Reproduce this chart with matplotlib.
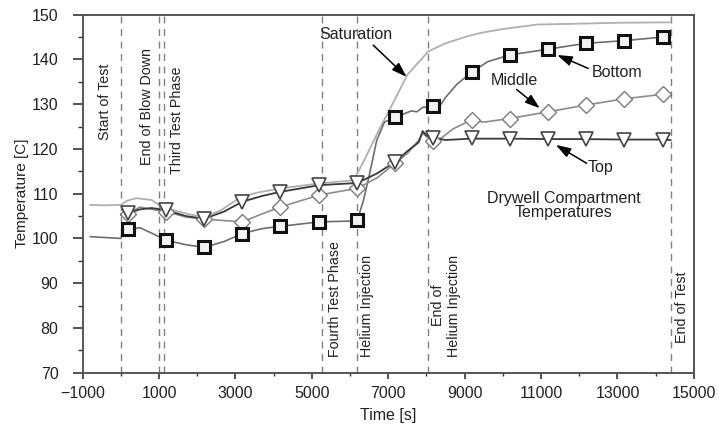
"""
Drywell compartment temperatures during the helium injection test.
"""

import matplotlib
matplotlib.use("Agg")
import matplotlib.pyplot as plt
from matplotlib.ticker import MultipleLocator

plt.rcParams["font.family"] = ["Liberation Sans", "DejaVu Sans"]

# saturation temperature trace
sat_t = [-800, -400, 0, 150, 400, 800, 1100, 1500, 1900, 2200, 2600, 3150, 3600, 4200,
         5200, 6100, 6400, 6800, 7200, 7500, 8050, 8500, 9000, 9400, 10000, 10900,
         12000, 13000, 14390]
sat_T = [107.5, 107.4, 107.5, 108.4, 109.0, 108.6, 107.0, 106.0, 105.2, 104.9, 106.2,
         109.3, 110.3, 111.2, 112.3, 113.0, 118.0, 125.0, 131.5, 136.6, 141.8, 143.6,
         145.0, 145.9, 146.8, 147.8, 148.0, 148.2, 148.3]

# bottom thermocouple trace
bot_t = [-800, -400, 0, 60, 180, 500, 800, 1190, 1700, 2180, 2700, 3180, 3700, 4170,
         5190, 6100, 6190, 6350, 6500, 6700, 6900, 7180, 7400, 7600, 7750, 7900, 8180,
         8300, 8500, 8800, 9180, 9600, 10180, 11180, 12170, 13170, 14180, 14390]
bot_T = [100.4, 100.2, 100.0, 101.8, 102.0, 102.4, 101.2, 99.6, 98.6, 98.0, 99.3, 101.1,
         102.2, 102.7, 103.7, 103.9, 104.1, 108.5, 114.0, 122.0, 126.0, 127.1, 127.8,
         128.5, 128.3, 129.3, 129.5, 129.0, 131.5, 134.5, 137.1, 139.5, 141.0, 142.3,
         143.6, 144.2, 145.0, 145.1]

# middle thermocouple trace
mid_t = [0, 180, 500, 800, 1190, 1700, 2180, 2700, 3180, 3700, 4170, 5190, 6190, 6700,
         7180, 7500, 7800, 7900, 8000, 8180, 8400, 8700, 9180, 9500, 10180, 11180, 12170,
         13170, 14180, 14390]
mid_T = [105.5, 105.6, 107.0, 106.5, 106.0, 104.8, 104.3, 104.0, 103.7, 105.5, 107.0,
         109.7, 111.2, 113.5, 116.8, 119.0, 122.0, 123.5, 122.8, 121.8, 122.5, 124.5,
         126.5, 126.0, 126.8, 128.3, 129.8, 131.2, 132.2, 132.4]

# top thermocouple trace
top_t = [0, 180, 500, 800, 1190, 1700, 2180, 2700, 3180, 3700, 4170, 5190, 6190, 6700,
         7180, 7500, 7800, 7900, 8000, 8180, 8500, 9180, 10180, 11180, 12170, 13170,
         14180, 14390]
top_T = [105.3, 105.6, 106.5, 106.8, 106.3, 105.0, 104.4, 106.0, 108.2, 109.5, 110.4,
         111.9, 112.4, 114.5, 117.1, 119.5, 121.5, 124.0, 123.0, 122.5, 122.0, 122.3,
         122.3, 122.2, 122.2, 122.1, 122.1, 122.0]

# marker sampling times and values
mark_t = [180, 1190, 2180, 3180, 4170, 5190, 6190, 7180, 8180, 9180, 10180, 11180,
          12170, 13170, 14180]
bot_mark = [102.0, 99.6, 98.0, 101.1, 102.7, 103.7, 104.1, 127.1, 129.5, 137.1, 141.0,
            142.3, 143.6, 144.2, 145.0]
mid_mark = [105.4, 106.0, 104.3, 103.7, 107.0, 109.7, 111.2, 116.8, 121.8, 126.5, 126.8,
            128.3, 129.8, 131.2, 132.2]
top_mark = [105.6, 106.3, 104.4, 108.2, 110.4, 111.9, 112.4, 117.1, 122.5, 122.4, 122.3,
            122.2, 122.2, 122.1, 122.1]

# test events: (time, label, label x, label y, vertical alignment)
events = [
    (0, "Start of Test", -416, 139, "top"),
    (1000, "End of Blow Down", 675, 142.5, "top"),
    (1130, "Third Test Phase", 1460, 138.5, "top"),
    (5270, "Fourth Test Phase", 5604, 73.6, "bottom"),
    (6170, "Helium Injection", 6449, 73.6, "bottom"),
    (8050, "End of\nHelium Injection", 8509, 73.6, "bottom"),
    (14390, "End of Test", 14678, 76.7, "bottom"),
]

fig = plt.figure(figsize=(7.19, 4.30), dpi=100)
ax = fig.add_axes([0.115, 0.1333, 0.850, 0.8325])

for t_ev, label, lx, ly, va in events:
    ax.axvline(t_ev, color="#808080", linestyle=(0, (5, 4)), linewidth=1.0, zorder=1)
    ax.text(lx, ly, label, rotation=90, ha="center", va=va, fontsize=10.3,
            color="#222222", multialignment="center")

ax.plot(sat_t, sat_T, color="#b0b0b0", linewidth=1.3, zorder=2)
ax.plot(bot_t, bot_T, color="#6e6e6e", linewidth=1.2, zorder=3)
ax.plot(mid_t, mid_T, color="#8c8c8c", linewidth=1.2, zorder=3)
ax.plot(top_t, top_T, color="#3a3a3a", linewidth=1.3, zorder=3)

ax.plot(mark_t, mid_mark, linestyle="none", marker="D", markersize=8.5,
        markerfacecolor="white", markeredgecolor="#7a7a7a", markeredgewidth=1.0, zorder=4)
ax.plot(mark_t, top_mark, linestyle="none", marker="v", markersize=10,
        markerfacecolor="white", markeredgecolor="#444444", markeredgewidth=1.2, zorder=5)
ax.plot(mark_t, bot_mark, linestyle="none", marker="s", markersize=9,
        markerfacecolor="#f2f2f2", markeredgecolor="#111111", markeredgewidth=2.2, zorder=6)

arrow = dict(arrowstyle="-|>,head_length=0.9,head_width=0.3", color="black",
             linewidth=1.1, shrinkA=0, shrinkB=0)
ax.annotate("", xy=(7480, 136.1), xytext=(6606, 143.2), arrowprops=arrow)
ax.annotate("", xy=(11422, 141.0), xytext=(12234, 138.0), arrowprops=arrow)
ax.annotate("", xy=(10969, 129.1), xytext=(10359, 133.3), arrowprops=arrow)
ax.annotate("", xy=(11388, 120.9), xytext=(12192, 116.8), arrowprops=arrow)

ax.text(6153, 145.5, "Saturation", fontsize=11.5, color="#222222", va="center", ha="center")
ax.text(12323, 137.0, "Bottom", fontsize=11.5, color="#222222", va="center")
ax.text(10289, 135.4, "Middle", fontsize=11.5, color="#222222", va="center", ha="center")
ax.text(12226, 115.8, "Top", fontsize=11.5, color="#222222", va="center")
ax.text(11598, 107.4, "Drywell Compartment\nTemperatures", fontsize=11.5,
        color="#222222", ha="center", va="center", linespacing=0.95)

ax.set_xlim(-1000, 15000)
ax.set_ylim(70, 150)
ax.xaxis.set_minor_locator(MultipleLocator(1000))
ax.yaxis.set_major_locator(MultipleLocator(10))
ax.yaxis.set_minor_locator(MultipleLocator(5))
ax.set_xticks(range(-1000, 15001, 2000))
ax.set_xticklabels(["\u22121000"] + [str(v) for v in range(1000, 15001, 2000)])
ax.tick_params(which="both", colors="#333333", labelcolor="#222222", labelsize=11.5)
ax.tick_params(axis="x", which="major", direction="out", length=4.5, width=1.2, pad=5)
ax.tick_params(axis="x", which="minor", direction="out", length=2.2, width=1.0)
ax.tick_params(axis="y", which="major", direction="out", length=7.5, width=1.2, pad=10)
ax.tick_params(axis="y", which="minor", direction="out", length=3.6, width=1.0)
for s in ax.spines.values():
    s.set_color("#555555")
    s.set_linewidth(1.4)

ax.set_xlabel("Time [s]", fontsize=11.5, color="#222222", labelpad=5)
ax.set_ylabel("Temperature [C]", fontsize=11, color="#222222", labelpad=2)

fig.savefig("out.png", dpi=100, facecolor="white")
